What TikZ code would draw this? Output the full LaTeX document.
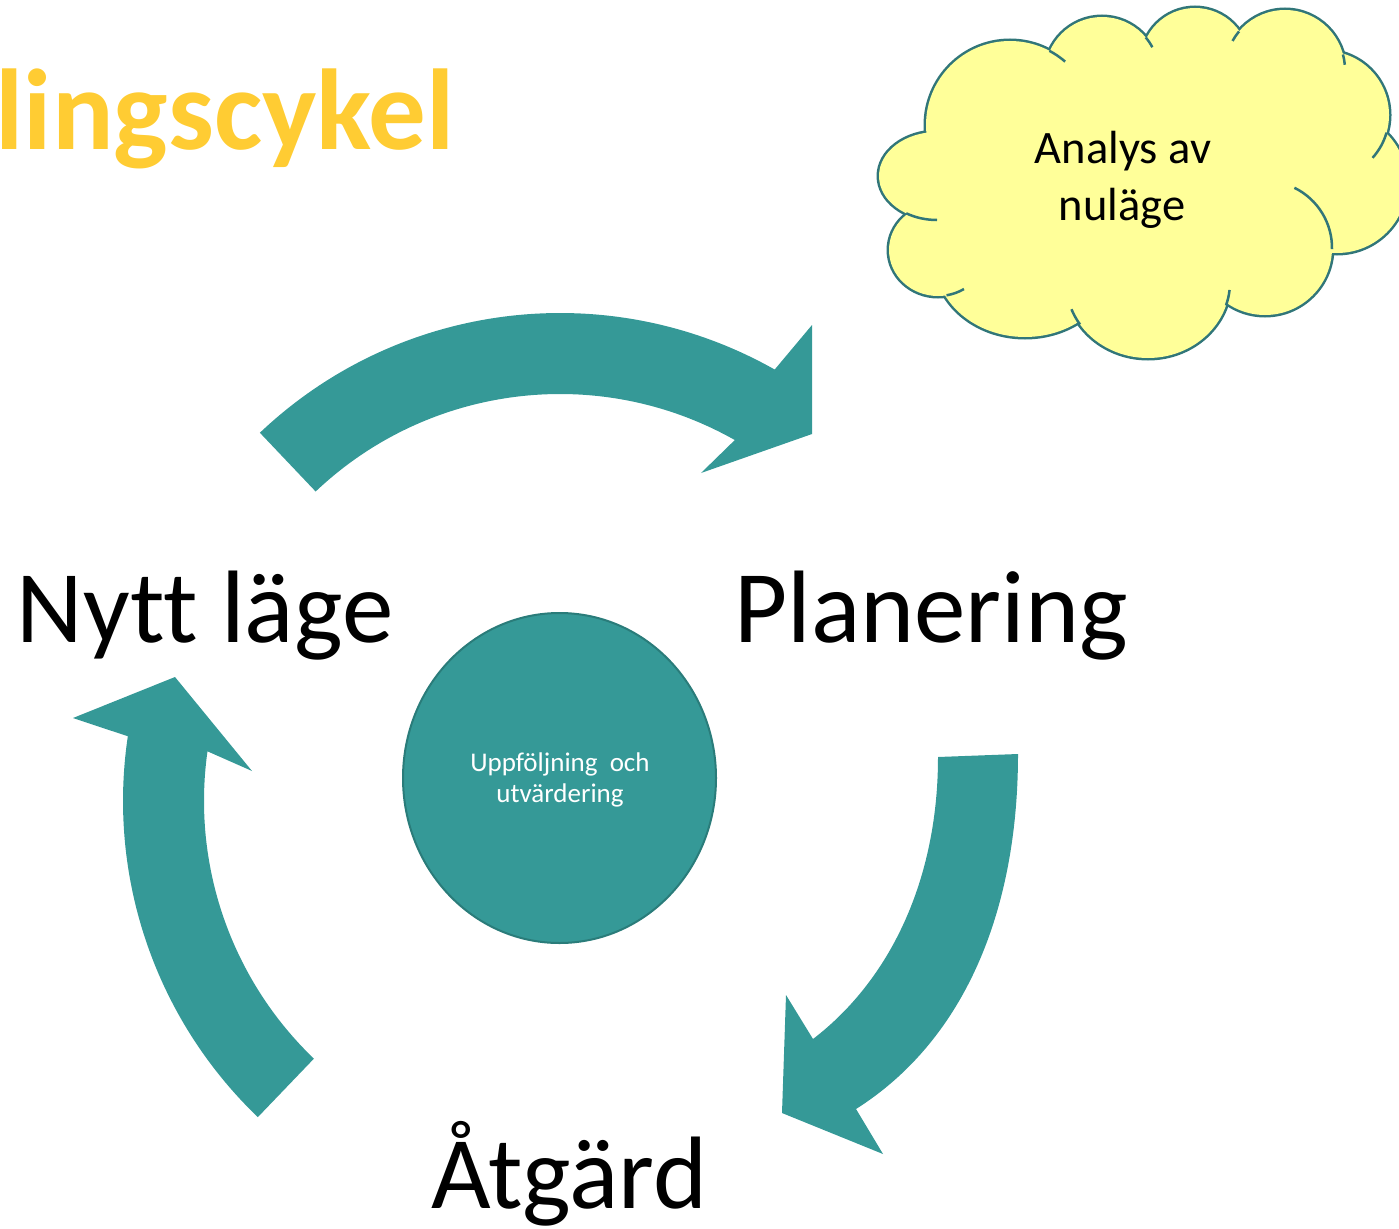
\documentclass[tikz,border=0pt]{standalone}
\usepackage{fontspec}
\setmainfont{Carlito}[Ligatures=NoCommon]
\usetikzlibrary{calc,shapes.geometric}
\definecolor{teal1}{RGB}{53,153,151}
\definecolor{tealedge}{RGB}{42,124,122}
\definecolor{cloudfill}{RGB}{255,255,153}
\definecolor{cloudedge}{RGB}{49,118,121}
\definecolor{titlecol}{RGB}{255,204,51}
\begin{document}
\begin{tikzpicture}[x=1pt,y=-1pt,
  band/.style={fill=teal1},
  lobe/.style={fill=cloudfill, draw=cloudedge, line width=5pt},
  lobefill/.style={fill=cloudfill},
  tail/.style={draw=cloudedge, line width=2.5pt},
  bigword/.style={font=\fontsize{103}{120}\selectfont, inner sep=0pt, anchor=base},
  cloudtxt/.style={font=\fontsize{46.5}{56}\selectfont, inner sep=0pt, anchor=base},
  smalltxt/.style={font=\fontsize{27}{32}\selectfont, text=white, inner sep=0pt, anchor=base}]
\useasboundingbox (0,0) rectangle (1399,1228);
\begin{scope}
\clip (0,0) rectangle (1399,1228);

% title (partly outside the picture)
\node[font=\fontsize{115}{130}\selectfont\bfseries, text=titlecol, anchor=base east, inner sep=0pt] (title) at (455,149) {Handlingscykel};

% cloud
\foreach \cx/\cy/\rx/\ry in {1010/125/84/84, 1102/74/57/57, 1195/62/54/54, 1285/70/60/60, 1325/115/64/64, 1337/183/70/70, 1265/248/67/67, 1148/282/82/76, 1025/260/90/77, 938/250/49/46, 937/176/58/44}
  \filldraw[lobe] (\cx,\cy) ellipse[x radius=\rx, y radius=\ry];
\foreach \cx/\cy/\rx/\ry in {1010/125/84/84, 1102/74/57/57, 1195/62/54/54, 1285/70/60/60, 1325/115/64/64, 1337/183/70/70, 1265/248/67/67, 1148/282/82/76, 1025/260/90/77, 938/250/49/46, 937/176/58/44}
  \fill[lobefill] (\cx,\cy) ellipse[x radius=\rx, y radius=\ry];
\fill[lobefill] (1010,125) -- (1102,74) -- (1195,62) -- (1285,70) -- (1325,115) -- (1337,183) -- (1265,248) -- (1148,282) -- (1025,260) -- (938,250) -- (937,176) -- cycle;
% inner tails of the cloud
\foreach \cx/\cy/\rx/\ry/\a/\b in {1010/125/84/84/-62/-49, 1102/74/57/57/-40/-28, 1285/70/60/60/-151/-140, 1285/70/60/60/-15/-5, 1325/115/64/64/16/42, 1265/248/67/67/-64/1, 1148/282/82/76/6/18, 1148/282/82/76/146/159, 938/250/49/46/58/80, 937/176/58/44/90/122}
  \draw[tail] ({\cx+\rx*cos(\a)},{\cy+\ry*sin(\a)}) arc[start angle=\a, end angle=\b, x radius=\rx, y radius=\ry];

\node[cloudtxt] (anA) at (1123,163) {Analys av};
\node[cloudtxt] (anB) at (1122,220) {nuläge};

% top arrow
\coordinate (C1) at (560,749);
\fill[band] ($(C1)+(-133.5:436)$) arc[start angle=-133.5, end angle=-60.5, radius=436]
  -- (812,325) -- (812,434) -- (701,473) -- ($(C1)+(-60.5:355)$)
  arc[start angle=-60.5, end angle=-133.5, radius=355] -- cycle;

% left arrow
\coordinate (C2) at (561,801);
\fill[band] ($(C2)+(133.8:438)$) arc[start angle=133.8, end angle=188.5, radius=438]
  -- (73,718) -- (175,677) -- (252,771) -- ($(C2)+(188:357)$)
  arc[start angle=188, end angle=133.8, radius=357] -- cycle;

% right arrow
\fill[band] (1018,754) .. controls (1018,910) and (965,1040) .. (856,1109)
  -- (883,1154) -- (782,1113) -- (786,995) -- (813,1039)
  .. controls (890,980) and (938,880) .. (938,757) -- cycle;

% centre circle
\node[ellipse, draw=tealedge, fill=teal1, line width=2pt, minimum width=313pt, minimum height=330pt, inner sep=0pt] (circ) at (559.5,778) {};
\node[smalltxt] (uppA) at (560,771) {Uppföljning\ \ och};
\node[smalltxt] (uppB) at (560,802) {utvärdering};

% stage labels
\node[bigword] (nytt) at (205,642) {Nytt läge};
\node[bigword] (plan) at (931,642) {Planering};
\node[bigword] (atg) at (569,1208) {Åtgärd};
\end{scope}
\end{tikzpicture}
\end{document}
